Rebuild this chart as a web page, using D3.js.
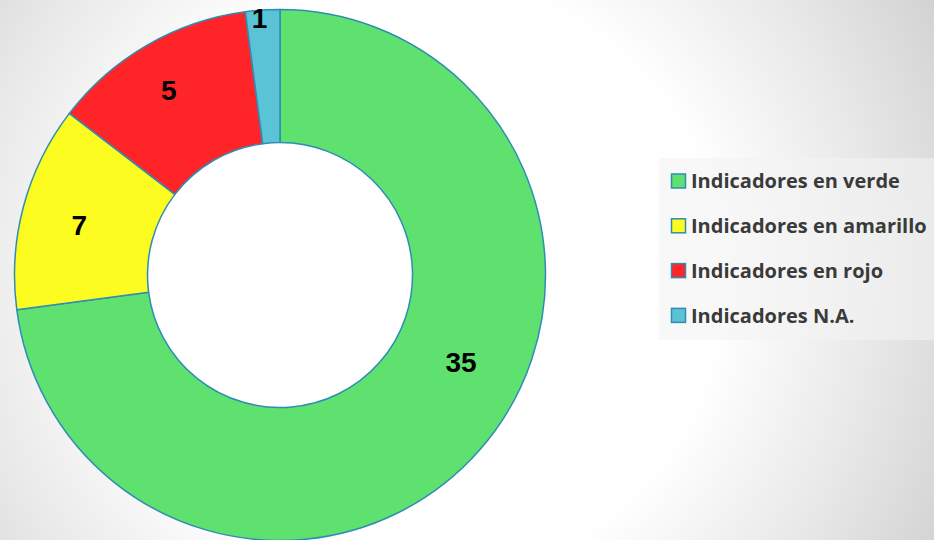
<!DOCTYPE html>
<html>
<head>
<meta charset="utf-8">
<script src="https://cdn.jsdelivr.net/npm/d3@7"></script>
<style>
  html, body { margin: 0; padding: 0; overflow: hidden; }
  svg { display: block; }
</style>
</head>
<body>
<div id="content"></div>
<script>
var Width = 934;
var Height = 540;

// datos del gráfico
var categories = ["Indicadores en verde", "Indicadores en amarillo", "Indicadores en rojo", "Indicadores N.A."];
// tamaño de los sectores tal como se ven en la imagen
var values = [35, 6, 6, 1];
// etiquetas de datos escritas en el gráfico
var labels = ["35", "7", "5", "1"];
var colors = ["#5ee16f", "#fdfc21", "#fe2428", "#5bc3d6"];

// ajuste de la posición de etiquetas (grados respecto al centro del sector, radio)
var labelShift = [-15.5, -1, -1, -0.8];
var labelRadius = [201, 207, 216, 258];

var cx = 280, cy = 275;
var outerR = 265.5, innerR = 132.5;

var svg = d3
  .select("#content")
  .append("svg")
  .attr("width", Width)
  .attr("height", Height);

// fondo con degradado radial
var defs = svg.append("defs");
var grad = defs
  .append("radialGradient")
  .attr("id", "bg")
  .attr("gradientUnits", "userSpaceOnUse")
  .attr("cx", 420)
  .attr("cy", 280)
  .attr("r", 600);
grad.append("stop").attr("offset", "0").attr("stop-color", "#ffffff");
grad.append("stop").attr("offset", "0.5").attr("stop-color", "#ffffff");
grad.append("stop").attr("offset", "0.75").attr("stop-color", "#e9e9e9");
grad.append("stop").attr("offset", "1").attr("stop-color", "#d0d0d0");

svg
  .append("rect")
  .attr("width", Width)
  .attr("height", Height)
  .attr("fill", "url(#bg)");

var pie = d3
  .pie()
  .sort(null)
  .value(function (d) {
    return d;
  });

var arc = d3.arc().innerRadius(innerR).outerRadius(outerR);

var arcs = pie(values);

var g = svg.append("g").attr("transform", "translate(" + cx + "," + cy + ")");

g.selectAll("path")
  .data(arcs)
  .enter()
  .append("path")
  .attr("d", arc)
  .attr("fill", function (d, i) {
    return colors[i];
  })
  .attr("stroke", "#2f8db3")
  .attr("stroke-width", 1.5)
  .attr("stroke-linejoin", "round");

// etiquetas de datos
g.selectAll("text.lbl")
  .data(arcs)
  .enter()
  .append("text")
  .attr("class", "lbl")
  .attr("x", function (d, i) {
    var a = (d.startAngle + d.endAngle) / 2 + (labelShift[i] * Math.PI) / 180;
    return labelRadius[i] * Math.sin(a);
  })
  .attr("y", function (d, i) {
    var a = (d.startAngle + d.endAngle) / 2 + (labelShift[i] * Math.PI) / 180;
    return -labelRadius[i] * Math.cos(a);
  })
  .attr("dy", "0.36em")
  .attr("text-anchor", "middle")
  .style("font-family", "'Liberation Sans', Arial, sans-serif")
  .style("font-weight", "bold")
  .style("font-size", "28px")
  .attr("fill", "#000")
  .text(function (d, i) {
    return labels[i];
  });

// leyenda
var legend = svg.append("g").attr("transform", "translate(659,158)");
legend
  .append("rect")
  .attr("width", 280)
  .attr("height", 182)
  .attr("fill", "#f4f4f4")
  .attr("fill-opacity", 0.6);

var item = legend
  .selectAll("g.item")
  .data(categories)
  .enter()
  .append("g")
  .attr("class", "item")
  .attr("transform", function (d, i) {
    return "translate(0," + (23 + i * 44.8) + ")";
  });

item
  .append("rect")
  .attr("x", 12.5)
  .attr("y", -7)
  .attr("width", 14)
  .attr("height", 14)
  .attr("fill", function (d, i) {
    return colors[i];
  })
  .attr("stroke", "#2f8db3")
  .attr("stroke-width", 1.5);

item
  .append("text")
  .attr("x", 32)
  .attr("dy", "0.36em")
  .style("font-family", "'Open Sans', sans-serif")
  .style("font-weight", "bold")
  .style("font-size", "20px")
  .attr("fill", "#3a3a3a")
  .text(function (d) {
    return d;
  });
</script>
</body>
</html>
